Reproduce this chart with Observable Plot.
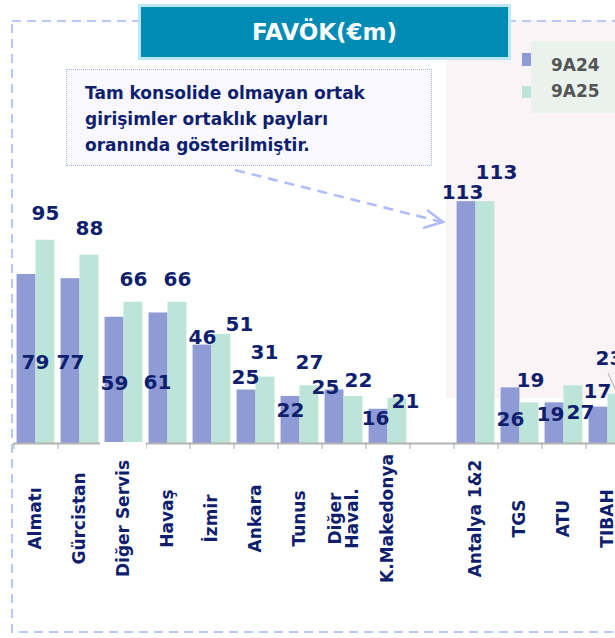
<!DOCTYPE html>
<html>
<head>
<meta charset="utf-8">
<script src="https://cdn.jsdelivr.net/npm/d3@7"></script>
<script src="https://cdn.jsdelivr.net/npm/@observablehq/plot@0.6"></script>
<style>
  html, body { margin: 0; padding: 0; background: #fff; overflow: hidden; }
  #wrap { position: relative; width: 615px; height: 638px; overflow: hidden; font-family: "DejaVu Sans", sans-serif; }
  .abs { position: absolute; }
</style>
</head>
<body>
<div id="wrap">
  <div class="abs" style="left:446px;top:20px;width:169px;height:378px;background:#fbf4f6;"></div>
  <div id="chart" class="abs" style="left:0;top:0;"></div>
  <div class="abs" style="left:100px;top:442px;width:46px;height:9px;background:#fff;"></div>
  <svg class="abs" style="left:0;top:0;" width="615" height="638">
    <rect x="12" y="21" width="640" height="611" fill="none" stroke="#b9c8f8" stroke-width="2" stroke-dasharray="9 6"/>
    <line x1="235" y1="170" x2="442" y2="222" stroke="#aebcf8" stroke-width="2.5" stroke-dasharray="10 7"/>
    <polyline points="427,210 443,222 423,228" fill="none" stroke="#aebcf8" stroke-width="2.5"/>
    <line x1="608" y1="373" x2="617" y2="393" stroke="#aaaaaa" stroke-width="1"/>
  </svg>
  <div class="abs" style="left:66px;top:69px;width:364px;height:95px;background:#f8f8fe;border:1px dotted #a9b6f0;"></div>
  <div class="abs" style="left:85px;top:80px;font-size:17px;font-weight:bold;line-height:26px;color:#0f1f6e;white-space:nowrap;">
    Tam konsolide olmayan ortak<br>girişimler ortaklık payları<br>oranında gösterilmiştir.
  </div>
  <div class="abs" style="left:138px;top:4px;width:373px;height:56px;background:#bde6f9;"></div>
  <div class="abs" style="left:141px;top:7px;width:367px;height:50px;background:#008bb5;color:#fff;font-size:23px;font-weight:bold;line-height:50px;text-align:center;">FAVÖK(€m)</div>
  <div class="abs" style="left:531px;top:41px;width:84px;height:72px;background:#eaf2ee;"></div>
  <div class="abs" style="left:522px;top:53px;width:9px;height:13px;background:#8e9bd4;"></div>
  <div class="abs" style="left:522px;top:86px;width:9px;height:12px;background:#bce4d9;"></div>
  <div class="abs" style="left:551px;top:53px;font-size:17px;font-weight:bold;line-height:24px;color:#555;">9A24</div>
  <div class="abs" style="left:551px;top:79px;font-size:17px;font-weight:bold;line-height:24px;color:#555;">9A25</div>
</div>
<script>
// ---- data ----
const categories = ["Almatı", "Gürcistan", "Diğer Servis", "Havaş", "İzmir", "Ankara", "Tunus", "Diğer\nHaval.", "K.Makedonya", "", "Antalya 1&2", "TGS", "ATU", "TIBAH"];
const values9A24 = [79, 77, 59, 61, 46, 25, 22, 25, 16, null, 113, 26, 19, 17];
const values9A25 = [95, 88, 66, 66, 51, 31, 27, 22, 21, null, 113, 19, 27, 23];
const seriesNames = ["9A24", "9A25"];

// ---- label layout (pixel nudges relative to bar top centre) ----
const nudge9A24 = [[9, 88], [0, 84], [0, 66], [-1, 70], [0, -7], [-1, -12], [0, 14], [-9, -2], [-3, 9], null, [-4, -9], [0, 32], [-4, 12], [-1, -16]];
const nudge9A25 = [[0, -27], [0, -27], [0, -23], [0, -23], [18, -10], [-1, -25], [0, -23], [5, -16], [8, 3], null, [11, -29], [1, -22], [7, 27], [-8, -36]];

const colors = {"9A24": "#8e9bd4", "9A25": "#bce4d9"};
const navy = "#0f1f6e";

const rows = [];
categories.forEach((c, i) => {
  if (values9A24[i] != null) rows.push({i, cat: c, series: "9A24", v: values9A24[i], nudge: nudge9A24[i], off: 0});
  if (values9A25[i] != null) rows.push({i, cat: c, series: "9A25", v: values9A25[i], nudge: nudge9A25[i], off: 0.43});
});

const barPad = 0.07, barW = 0.43;

const labelMarks = rows.map(r => Plot.text([r], {
  x: d => d.i + barPad + d.off + barW / 2,
  y: "v",
  text: d => String(d.v),
  dx: r.nudge[0],
  dy: r.nudge[1],
  fontSize: 20,
  fontWeight: "bold",
  fill: navy
}));

const plot = Plot.plot({
  width: 615,
  height: 638,
  marginTop: 0,
  marginLeft: 13,
  marginRight: 0,
  marginBottom: 195,
  style: {background: "transparent", fontFamily: "DejaVu Sans, sans-serif"},
  x: {type: "linear", domain: [0, categories.length], range: [13.5, 13.5 + 44 * categories.length], axis: null},
  y: {domain: [0, 100], range: [443, 229], axis: null},
  color: {domain: seriesNames, range: seriesNames.map(s => colors[s])},
  marks: [
    Plot.rectY(rows, {
      x1: d => d.i + barPad + d.off,
      x2: d => d.i + barPad + d.off + barW,
      y: "v",
      fill: "series"
    }),
    Plot.ruleY([0], {stroke: "#b3b3b3", strokeWidth: 2}),
    Plot.axisX({
      ticks: d3.range(0, categories.length + 1),
      tickSize: 6,
      tickFormat: () => "",
      stroke: "#a8a8a8"
    }),
    Plot.axisX({
      ticks: d3.range(categories.length).map(i => i + 0.5),
      tickSize: 0,
      tickPadding: 0,
      tickFormat: t => categories[Math.round(t - 0.5)],
      tickRotate: -90,
      textAnchor: "middle",
      lineAnchor: "middle",
      dy: 75,
      fontSize: 17,
      fontWeight: "bold",
      fill: navy
    }),
    ...labelMarks
  ]
});
document.getElementById("chart").appendChild(plot);
</script>
</body>
</html>
